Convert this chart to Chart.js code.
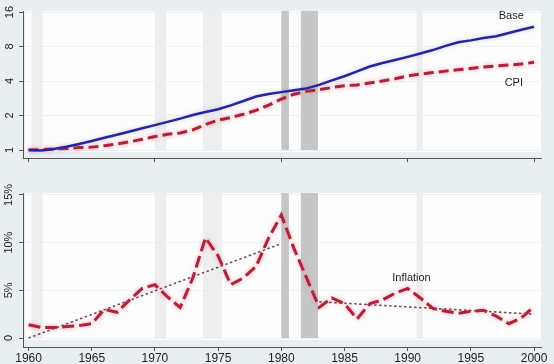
<!DOCTYPE html>
<html>
<head>
<meta charset="utf-8">
<script src="https://cdn.jsdelivr.net/npm/chart.js@4"></script>
<style>
    html, body { margin: 0; padding: 0; width: 554px; height: 364px; overflow: hidden; background: #e9eef1; }
    canvas { position: absolute; left: 0; }
    #top-chart { top: 0; }
    #bottom-chart { top: 170px; }
</style>
</head>
<body>
<canvas id="top-chart" width="554" height="170"></canvas>
<canvas id="bottom-chart" width="554" height="200"></canvas>
<script>
const years = [1960, 1961, 1962, 1963, 1964, 1965, 1966, 1967, 1968, 1969,
    1970, 1971, 1972, 1973, 1974, 1975, 1976, 1977, 1978, 1979,
    1980, 1981, 1982, 1983, 1984, 1985, 1986, 1987, 1988, 1989,
    1990, 1991, 1992, 1993, 1994, 1995, 1996, 1997, 1998, 1999, 2000];
const base = [1.00, 0.99, 1.02, 1.07, 1.13, 1.20, 1.28, 1.36, 1.45, 1.55,
    1.65, 1.76, 1.88, 2.02, 2.15, 2.27, 2.45, 2.68, 2.93, 3.08,
    3.20, 3.32, 3.45, 3.70, 4.05, 4.40, 4.85, 5.35, 5.75, 6.10,
    6.50, 6.95, 7.45, 8.10, 8.70, 9.05, 9.50, 9.85, 10.50, 11.20, 11.90];
const cpi = [1.00, 1.01, 1.02, 1.03, 1.05, 1.06, 1.09, 1.13, 1.18, 1.24,
    1.31, 1.37, 1.41, 1.50, 1.67, 1.82, 1.92, 2.05, 2.22, 2.47,
    2.78, 3.07, 3.26, 3.36, 3.51, 3.64, 3.70, 3.84, 4.00, 4.19,
    4.42, 4.60, 4.74, 4.88, 5.01, 5.15, 5.30, 5.42, 5.51, 5.63, 5.82];
const inflation = [1.4, 1.1, 1.1, 1.2, 1.3, 1.5, 3.0, 2.7, 4.0, 5.2,
    5.6, 4.3, 3.2, 6.3, 10.5, 8.6, 5.6, 6.3, 7.5, 10.5,
    12.9, 9.4, 6.3, 3.2, 4.2, 3.6, 2.0, 3.6, 4.0, 4.7,
    5.2, 4.2, 3.1, 2.8, 2.6, 2.8, 2.9, 2.3, 1.5, 2.1, 3.3];
const trendEarlyYears = [1960, 1980];
const trendEarly = [0, 9.9];
const trendLateYears = [1983, 2000];
const trendLate = [3.8, 2.5];

// recession shading
const recessionStart = [1960.25, 1970.0, 1973.8, 1980.0, 1981.55, 1990.7];
const recessionEnd = [1961.1, 1970.9, 1975.3, 1980.6, 1982.9, 1991.2];
const recessionDark = [false, false, false, true, true, false];

const topXTicks = [1960, 1970, 1980, 1990, 2000];
const bottomXTicks = [1960, 1965, 1970, 1975, 1980, 1985, 1990, 1995, 2000];
const topYTicks = [1, 2, 4, 8, 16];
const topYLabels = ['1', '2', '4', '8', '16'];
const bottomYTicks = [0, 5, 10, 15];
const bottomYLabels = ['0', '5%', '10%', '15%'];

const topNotes = ['Base', 'CPI'];
const topNoteYears = [1998.2, 1998.4];
const topNoteValues = [14.7, 3.84];
const bottomNotes = ['Inflation'];
const bottomNoteYears = [1990.3];
const bottomNoteValues = [6.3];

const FONT = "'Liberation Sans', Arial, sans-serif";
const AXIS = '#555';
const RED = '#ad2339';

function points(xs, ys) { return xs.map((x, i) => ({ x: x, y: ys[i] })); }

const panelPlugin = {
    id: 'panel',
    beforeDraw(chart, args, opts) {
        const { ctx, chartArea: a } = chart;
        ctx.save();
        ctx.fillStyle = '#fdfdfd';
        ctx.fillRect(a.left + 2, a.top, a.right - a.left - 2, a.bottom - a.top - opts.gap);
        ctx.restore();
    },
    beforeDatasetsDraw(chart, args, opts) {
        const { ctx, chartArea: a, scales: { x } } = chart;
        ctx.save();
        recessionStart.forEach((s, i) => {
            const x0 = x.getPixelForValue(s);
            const x1 = x.getPixelForValue(recessionEnd[i]);
            ctx.fillStyle = recessionDark[i] ? '#c6c6c6' : '#eeeeee';
            ctx.fillRect(x0, a.top, x1 - x0, a.bottom - a.top - opts.gap - 2);
        });
        ctx.restore();
    },
    beforeDatasetDraw(chart, args) {
        const ds = chart.data.datasets[args.index];
        chart.ctx.save();
        if (ds.glow) { chart.ctx.shadowColor = ds.glow; chart.ctx.shadowBlur = 4; }
    },
    afterDatasetDraw(chart) { chart.ctx.restore(); },
    afterDraw(chart, args, opts) {
        const { ctx, scales: { x, y } } = chart;
        ctx.save();
        ctx.fillStyle = '#222';
        ctx.font = '11px ' + FONT;
        ctx.textAlign = 'center';
        ctx.textBaseline = 'middle';
        opts.yTicks.forEach((v, i) => {
            ctx.save();
            ctx.translate(opts.labelX, y.getPixelForValue(v));
            ctx.rotate(-Math.PI / 2);
            ctx.fillText(opts.yLabels[i], 0, 0);
            ctx.restore();
        });
        opts.notes.forEach((t, i) => {
            ctx.fillText(t, x.getPixelForValue(opts.noteYears[i]), y.getPixelForValue(opts.noteValues[i]));
        });
        ctx.restore();
    }
};

function xScale(ticks, showLabels) {
    return {
        type: 'linear', min: 1959.56, max: 2000.55,
        afterBuildTicks: s => { s.ticks = ticks.map(v => ({ value: v })); },
        ticks: { display: showLabels, autoSkip: false, maxRotation: 0, padding: 0, color: '#222', font: { family: FONT, size: 12 }, callback: v => String(v) },
        grid: { drawOnChartArea: false, tickLength: 4, tickColor: AXIS },
        border: { color: AXIS, width: 1 }
    };
}

const common = {
    responsive: false,
    animation: false,
    events: [],
    plugins: { legend: { display: false }, tooltip: { enabled: false } }
};

new Chart(document.getElementById('top-chart'), {
    type: 'line',
    data: {
        datasets: [
            { label: 'Base', data: points(years, base), borderColor: '#26269c', borderWidth: 2.5, pointRadius: 0, tension: 0, glow: 'rgba(120,120,230,0.35)' },
            { label: 'CPI', data: points(years, cpi), borderColor: RED, borderWidth: 3, borderDash: [10, 5], pointRadius: 0, tension: 0, glow: 'rgba(255,110,130,0.7)' }
        ]
    },
    options: {
        ...common,
        layout: { padding: { left: 19, right: 13, top: 11, bottom: 8 } },
        plugins: {
            ...common.plugins,
            panel: { gap: 6, labelX: 10, yTicks: topYTicks, yLabels: topYLabels, notes: topNotes, noteYears: topNoteYears, noteValues: topNoteValues }
        },
        scales: {
            x: xScale(topXTicks, false),
            y: {
                type: 'logarithmic', min: 0.852, max: 16.33,
                afterBuildTicks: s => { s.ticks = topYTicks.map(v => ({ value: v })); },
                ticks: { display: false },
                grid: { color: '#eef1f3', tickLength: 4, tickColor: AXIS },
                border: { color: AXIS, width: 1 }
            }
        }
    },
    plugins: [panelPlugin]
});

new Chart(document.getElementById('bottom-chart'), {
    type: 'line',
    data: {
        datasets: [
            { label: 'Trend 1960-80', data: points(trendEarlyYears, trendEarly), borderColor: '#7d4753', borderWidth: 1.6, borderDash: [2.5, 2.5], pointRadius: 0 },
            { label: 'Trend 1983-2000', data: points(trendLateYears, trendLate), borderColor: '#7d4753', borderWidth: 1.6, borderDash: [2.5, 2.5], pointRadius: 0 },
            { label: 'Inflation', data: points(years, inflation), borderColor: RED, borderWidth: 3, borderDash: [12, 5], pointRadius: 0, tension: 0, glow: 'rgba(255,110,130,0.7)' }
        ]
    },
    options: {
        ...common,
        layout: { padding: { left: 19, right: 13, top: 23, bottom: 4.6 } },
        plugins: {
            ...common.plugins,
            panel: { gap: 7, labelX: 8.5, yTicks: bottomYTicks, yLabels: bottomYLabels, notes: bottomNotes, noteYears: bottomNoteYears, noteValues: bottomNoteValues }
        },
        scales: {
            x: xScale(bottomXTicks, true),
            y: {
                type: 'linear', min: -0.94, max: 15.2,
                afterBuildTicks: s => { s.ticks = bottomYTicks.map(v => ({ value: v })); },
                ticks: { display: false },
                grid: { color: '#eef1f3', tickLength: 4, tickColor: AXIS },
                border: { color: AXIS, width: 1 }
            }
        }
    },
    plugins: [panelPlugin]
});
</script>
</body>
</html>
